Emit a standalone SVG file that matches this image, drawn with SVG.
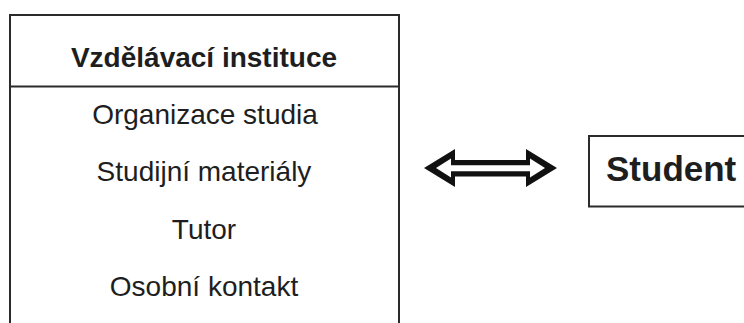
<svg xmlns="http://www.w3.org/2000/svg" width="744" height="323" viewBox="0 0 744 323">
  <style>
    .rule { stroke: #2b2b2b; stroke-width: 2; fill: none; }
    .head { font-family: "Liberation Sans", Arial, sans-serif; font-weight: bold; fill: #1e1e1e; }
    .item { font-family: "Liberation Sans", Arial, sans-serif; font-size: 28px; fill: #1e1e1e; text-anchor: middle; }
    .arrow-outer { fill: #111; }
    .arrow-inner { fill: #fff; }
  </style>
  <rect width="744" height="323" fill="#fff"/>

  <!-- institution panel: open at the bottom -->
  <g id="institution">
    <path class="rule" d="M10 330 V15 H399 V330"/>
    <line class="rule" x1="10" y1="86.5" x2="399" y2="86.5"/>
    <text class="head" x="204" y="67" font-size="28" text-anchor="middle">Vzdělávací instituce</text>
    <text class="item" x="205" y="124">Organizace studia</text>
    <text class="item" x="204" y="181">Studijní materiály</text>
    <text class="item" x="204" y="239">Tutor</text>
    <text class="item" x="204" y="296">Osobní kontakt</text>
  </g>

  <!-- student panel: open on the right -->
  <g id="student">
    <path class="rule" d="M750 136 H589 V206.5 H750"/>
    <text class="head" x="606" y="181" font-size="35">Student</text>
  </g>

  <!-- two-way hollow arrow: black outline with a white core -->
  <g id="connectors">
    <polygon class="arrow-outer" points="424,168 455,149 455,160 526,160 526,149 557,168 526,187 526,176.5 455,176.5 455,187"/>
    <polygon class="arrow-inner" points="436,168 451,158.5 451,165.3 530,165.3 530,158.5 545,168 530,177.5 530,171.3 451,171.3 451,177.5"/>
  </g>
</svg>
